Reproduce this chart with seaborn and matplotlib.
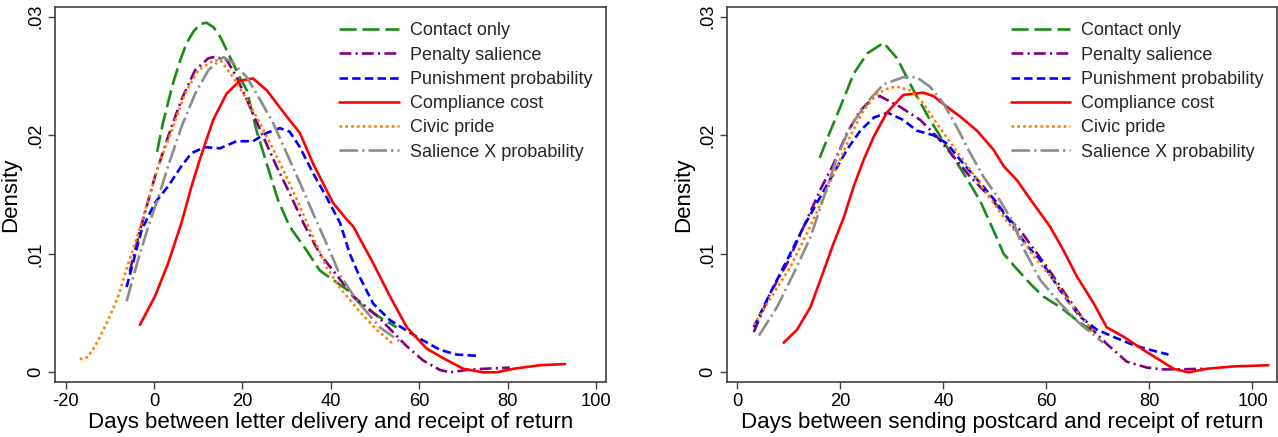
import numpy as np
import pandas as pd
import matplotlib
matplotlib.use("Agg")
import matplotlib.pyplot as plt
import seaborn as sns

sns.set_theme(style="white")
plt.rcParams['font.family'] = ['Liberation Sans', 'DejaVu Sans']

series_names = ["Contact only", "Penalty salience", "Punishment probability",
                "Compliance cost", "Civic pride", "Salience X probability"]
colors = ["#1a8c1a", "#800080", "#0000ff", "#ff0000", "#ff8000", "#8c8c8c"]
# dash patterns in units of line width
dash_styles = [(0, (6.5, 2.2)), (0, (4.5, 1.6, 0.8, 1.6)), (0, (3.2, 1.6)),
               "solid", (0, (1.0, 1.2)), (0, (7.0, 1.6, 0.8, 1.6))]

# ---------- Left panel: days between letter delivery and receipt of return
L_contact_x = [0.7, 2, 4.3, 6, 7.4, 9, 10.5, 11.9, 13.5, 15, 17.2, 19.4, 21, 23.2, 25.5, 28.1, 30.7, 34.5, 37.5, 40.5, 43.6, 46.6, 50.4, 54.9]
L_contact_y = [0.0186, 0.0210, 0.0244, 0.0264, 0.0278, 0.0288, 0.0294, 0.0295, 0.0291, 0.0283, 0.0266, 0.0249, 0.0238, 0.0204, 0.0176, 0.0145, 0.0123, 0.0103, 0.0086, 0.0078, 0.0070, 0.0058, 0.0048, 0.0038]

L_penalty_x = [-5.5, -3, 0.2, 3.2, 6.2, 9.3, 12.3, 13.5, 16.4, 18.7, 21.7, 24.7, 27.7, 30.7, 33.8, 37.5, 40.5, 45.1, 50.4, 57.2, 60.9, 64.7, 67, 70.7, 74.5, 80.5]
L_penalty_y = [0.0085, 0.0122, 0.0165, 0.0199, 0.0230, 0.0255, 0.0265, 0.0266, 0.0264, 0.0249, 0.0224, 0.0199, 0.0174, 0.0151, 0.0126, 0.0100, 0.0086, 0.0064, 0.0048, 0.0022, 0.0010, 0.0002, 0.0000, 0.0002, 0.0003, 0.0004]

L_punish_x = [-6.2, -2.8, 0.2, 3.2, 6.2, 8.5, 11.5, 14.9, 18.7, 22.4, 25.5, 28.5, 30.7, 33, 36, 39, 42.1, 44.3, 46.6, 49.6, 53.4, 59.4, 64.7, 68.5, 73]
L_punish_y = [0.0072, 0.0120, 0.0143, 0.0157, 0.0174, 0.0185, 0.0190, 0.0189, 0.0195, 0.0195, 0.0202, 0.0206, 0.0203, 0.0190, 0.0168, 0.0148, 0.0126, 0.0100, 0.0080, 0.0058, 0.0044, 0.0030, 0.0019, 0.0015, 0.0014]

L_cost_x = [-3.2, 0.2, 3.2, 6.2, 8.5, 10.4, 13.4, 16.4, 19.4, 22.4, 25.5, 30, 33, 36, 40.5, 43.6, 45.1, 49.6, 53.4, 57.2, 61.7, 65.4, 70, 74.5, 77.5, 81.3, 87.3, 93]
L_cost_y = [0.0040, 0.0064, 0.0092, 0.0126, 0.0157, 0.0180, 0.0213, 0.0235, 0.0246, 0.0248, 0.0238, 0.0216, 0.0202, 0.0176, 0.0143, 0.0129, 0.0123, 0.0092, 0.0064, 0.0038, 0.0020, 0.0012, 0.0003, 0.0000, 0.0000, 0.0003, 0.0006, 0.0007]

L_civic_x = [-16.8, -14.9, -12.6, -10.4, -8.1, -5.8, -3.6, -1.3, 1, 4, 7, 10, 13, 14.9, 17.9, 21, 24, 27, 30, 33, 36, 39, 42.1, 46.6, 50.4, 54.1]
L_civic_y = [0.0011, 0.0013, 0.0027, 0.0044, 0.0064, 0.0092, 0.0117, 0.0145, 0.0174, 0.0204, 0.0235, 0.0255, 0.0262, 0.0264, 0.0249, 0.0230, 0.0210, 0.0188, 0.0165, 0.0140, 0.0114, 0.0089, 0.0071, 0.0051, 0.0036, 0.0024]

L_salxp_x = [-6.2, -3.6, -1.3, 1, 3.2, 6.2, 9.3, 12.3, 15.7, 17.9, 21, 24, 27, 30, 33, 36, 39, 42.1, 45.8, 51.1, 56.4]
L_salxp_y = [0.0060, 0.0095, 0.0123, 0.0148, 0.0174, 0.0207, 0.0235, 0.0255, 0.0266, 0.0261, 0.0249, 0.0230, 0.0210, 0.0185, 0.0160, 0.0134, 0.0109, 0.0082, 0.0061, 0.0038, 0.0024]

# ---------- Right panel: days between sending postcard and receipt of return
R_contact_x = [16, 18.1, 20, 22.6, 25.2, 28.4, 31, 34.2, 37.4, 40.7, 43.9, 47.1, 49.7, 51.7, 54.3, 56.8, 59.4, 62.7, 65.9, 68.8]
R_contact_y = [0.0181, 0.0204, 0.0224, 0.0252, 0.0269, 0.0278, 0.0265, 0.0238, 0.0213, 0.0190, 0.0168, 0.0145, 0.0120, 0.0100, 0.0087, 0.0075, 0.0064, 0.0055, 0.0044, 0.0035]

R_penalty_x = [3.2, 6.4, 9.7, 12.9, 16.1, 18.7, 21.3, 23.9, 26.5, 27.7, 31.6, 35.5, 38.7, 42, 45.2, 48.4, 51.7, 54.9, 56.2, 60.1, 64, 67.8, 71.7, 75.6, 79.5, 82.7, 85.3, 90.5]
R_penalty_y = [0.0034, 0.0067, 0.0092, 0.0123, 0.0154, 0.0176, 0.0202, 0.0221, 0.0232, 0.0233, 0.0224, 0.0213, 0.0199, 0.0182, 0.0165, 0.0151, 0.0134, 0.0120, 0.0112, 0.0089, 0.0064, 0.0041, 0.0024, 0.0009, 0.0004, 0.00025, 0.00025, 0.0003]

R_punish_x = [3.2, 6.4, 9.7, 12.9, 16.1, 18.7, 21.3, 23.9, 26.5, 29.2, 32.2, 34.8, 38.1, 40.7, 43.9, 47.1, 50.4, 53.6, 56.2, 58.8, 62.7, 66.5, 69.8, 73, 76.9, 80.1, 83.7]
R_punish_y = [0.0038, 0.0067, 0.0095, 0.0123, 0.0148, 0.0168, 0.0188, 0.0204, 0.0215, 0.0219, 0.0213, 0.0204, 0.0200, 0.0193, 0.0176, 0.0160, 0.0143, 0.0123, 0.0107, 0.0095, 0.0069, 0.0047, 0.0036, 0.0030, 0.0023, 0.0019, 0.0015]

R_cost_x = [9, 11.6, 14.2, 16.8, 18.7, 20.7, 22.6, 24.5, 26.5, 29, 32.2, 36.1, 38.1, 40.7, 43.2, 46.5, 49.7, 51.7, 54.3, 57.2, 60.7, 63.3, 65.9, 69.2, 71.7, 75, 78.8, 82.1, 84.7, 87.6, 91.1, 96.3, 103.1]
R_cost_y = [0.0025, 0.0036, 0.0055, 0.0086, 0.0109, 0.0131, 0.0157, 0.0179, 0.0199, 0.0219, 0.0234, 0.0236, 0.0233, 0.0224, 0.0216, 0.0204, 0.0188, 0.0174, 0.0162, 0.0144, 0.0123, 0.0103, 0.0081, 0.0058, 0.0038, 0.0030, 0.0019, 0.0010, 0.0003, 0.0000, 0.0003, 0.0005, 0.0006]

R_civic_x = [3.2, 7.1, 10.3, 13.5, 16.8, 19.4, 21.9, 24.5, 27.1, 29.5, 31, 33.5, 36.1, 38.7, 42, 45.2, 48.4, 51.7, 54.9, 57.5, 61.4, 65.2, 69.1]
R_civic_y = [0.0040, 0.0067, 0.0089, 0.0117, 0.0148, 0.0174, 0.0199, 0.0221, 0.0235, 0.0240, 0.0241, 0.0238, 0.0227, 0.0210, 0.0190, 0.0171, 0.0151, 0.0131, 0.0114, 0.0098, 0.0078, 0.0055, 0.0035]

R_salxp_x = [4.2, 7.7, 11, 14.2, 16.8, 19.4, 21.9, 25.2, 28.4, 32.2, 34.8, 37.4, 40, 42.6, 45.2, 47.8, 51, 53.6, 55.5, 58.8, 62.7, 66.5, 71]
R_salxp_y = [0.0031, 0.0055, 0.0084, 0.0114, 0.0148, 0.0182, 0.0207, 0.0228, 0.0243, 0.0249, 0.0249, 0.0241, 0.0227, 0.0207, 0.0185, 0.0165, 0.0145, 0.0126, 0.0105, 0.0078, 0.0058, 0.0041, 0.0025]

left_data = [(L_contact_x, L_contact_y), (L_penalty_x, L_penalty_y), (L_punish_x, L_punish_y),
             (L_cost_x, L_cost_y), (L_civic_x, L_civic_y), (L_salxp_x, L_salxp_y)]
right_data = [(R_contact_x, R_contact_y), (R_penalty_x, R_penalty_y), (R_punish_x, R_punish_y),
              (R_cost_x, R_cost_y), (R_civic_x, R_civic_y), (R_salxp_x, R_salxp_y)]

x_labels = ["Days between letter delivery and receipt of return",
            "Days between sending postcard and receipt of return"]
x_ticks = [[-20, 0, 20, 40, 60, 80, 100], [0, 20, 40, 60, 80, 100]]
x_lims = [(-22.4, 102.2), (-1.94, 104.7)]
y_ticks = [0, 0.01, 0.02, 0.03]
y_ticklabels = ["0", ".01", ".02", ".03"]

W, H = 1278, 437
fig = plt.figure(figsize=(W / 100, H / 100), dpi=100)
ax_rects = [(55, 6.7, 605.7, 382.3), (727.3, 6.7, 1276.7, 382.3)]

frame_col = "#404040"
for k, (datasets, rect) in enumerate(zip([left_data, right_data], ax_rects)):
    x0, y0, x1, y1 = rect
    ax = fig.add_axes([x0 / W, 1 - y1 / H, (x1 - x0) / W, (y1 - y0) / H])
    for i, (xs, ys) in enumerate(datasets):
        df = pd.DataFrame({"x": xs, "y": ys})
        sns.lineplot(data=df, x="x", y="y", ax=ax, color=colors[i], linewidth=1.9,
                     linestyle=dash_styles[i], estimator=None, sort=False,
                     label=series_names[i])
    ax.set_xlim(*x_lims[k])
    ax.set_ylim(-0.00084, 0.03085)
    ax.set_xticks(x_ticks[k])
    ax.set_xticklabels([str(t) for t in x_ticks[k]])
    ax.set_yticks(y_ticks)
    ax.set_yticklabels(y_ticklabels, rotation=90, va="center")
    ax.tick_params(axis="both", which="major", direction="out", length=5, width=1,
                   color=frame_col, labelsize=13.2, labelcolor="black", pad=3,
                   bottom=True, left=True)
    for sp in ax.spines.values():
        sp.set_color(frame_col)
        sp.set_linewidth(1.2)
    ax.set_xlabel(x_labels[k], fontsize=16, color="black", labelpad=1)
    ax.set_ylabel("Density", fontsize=16, color="black", labelpad=4)
    ax.grid(False)
    handles, labels = ax.get_legend_handles_labels()
    ax.legend(handles, labels, loc="upper left", bbox_to_anchor=(0.516, 0.958),
              frameon=False, fontsize=13, handlelength=3.3, handletextpad=0.6,
              labelspacing=0.40, borderpad=0, borderaxespad=0)

fig.savefig("out.png", dpi=100)
